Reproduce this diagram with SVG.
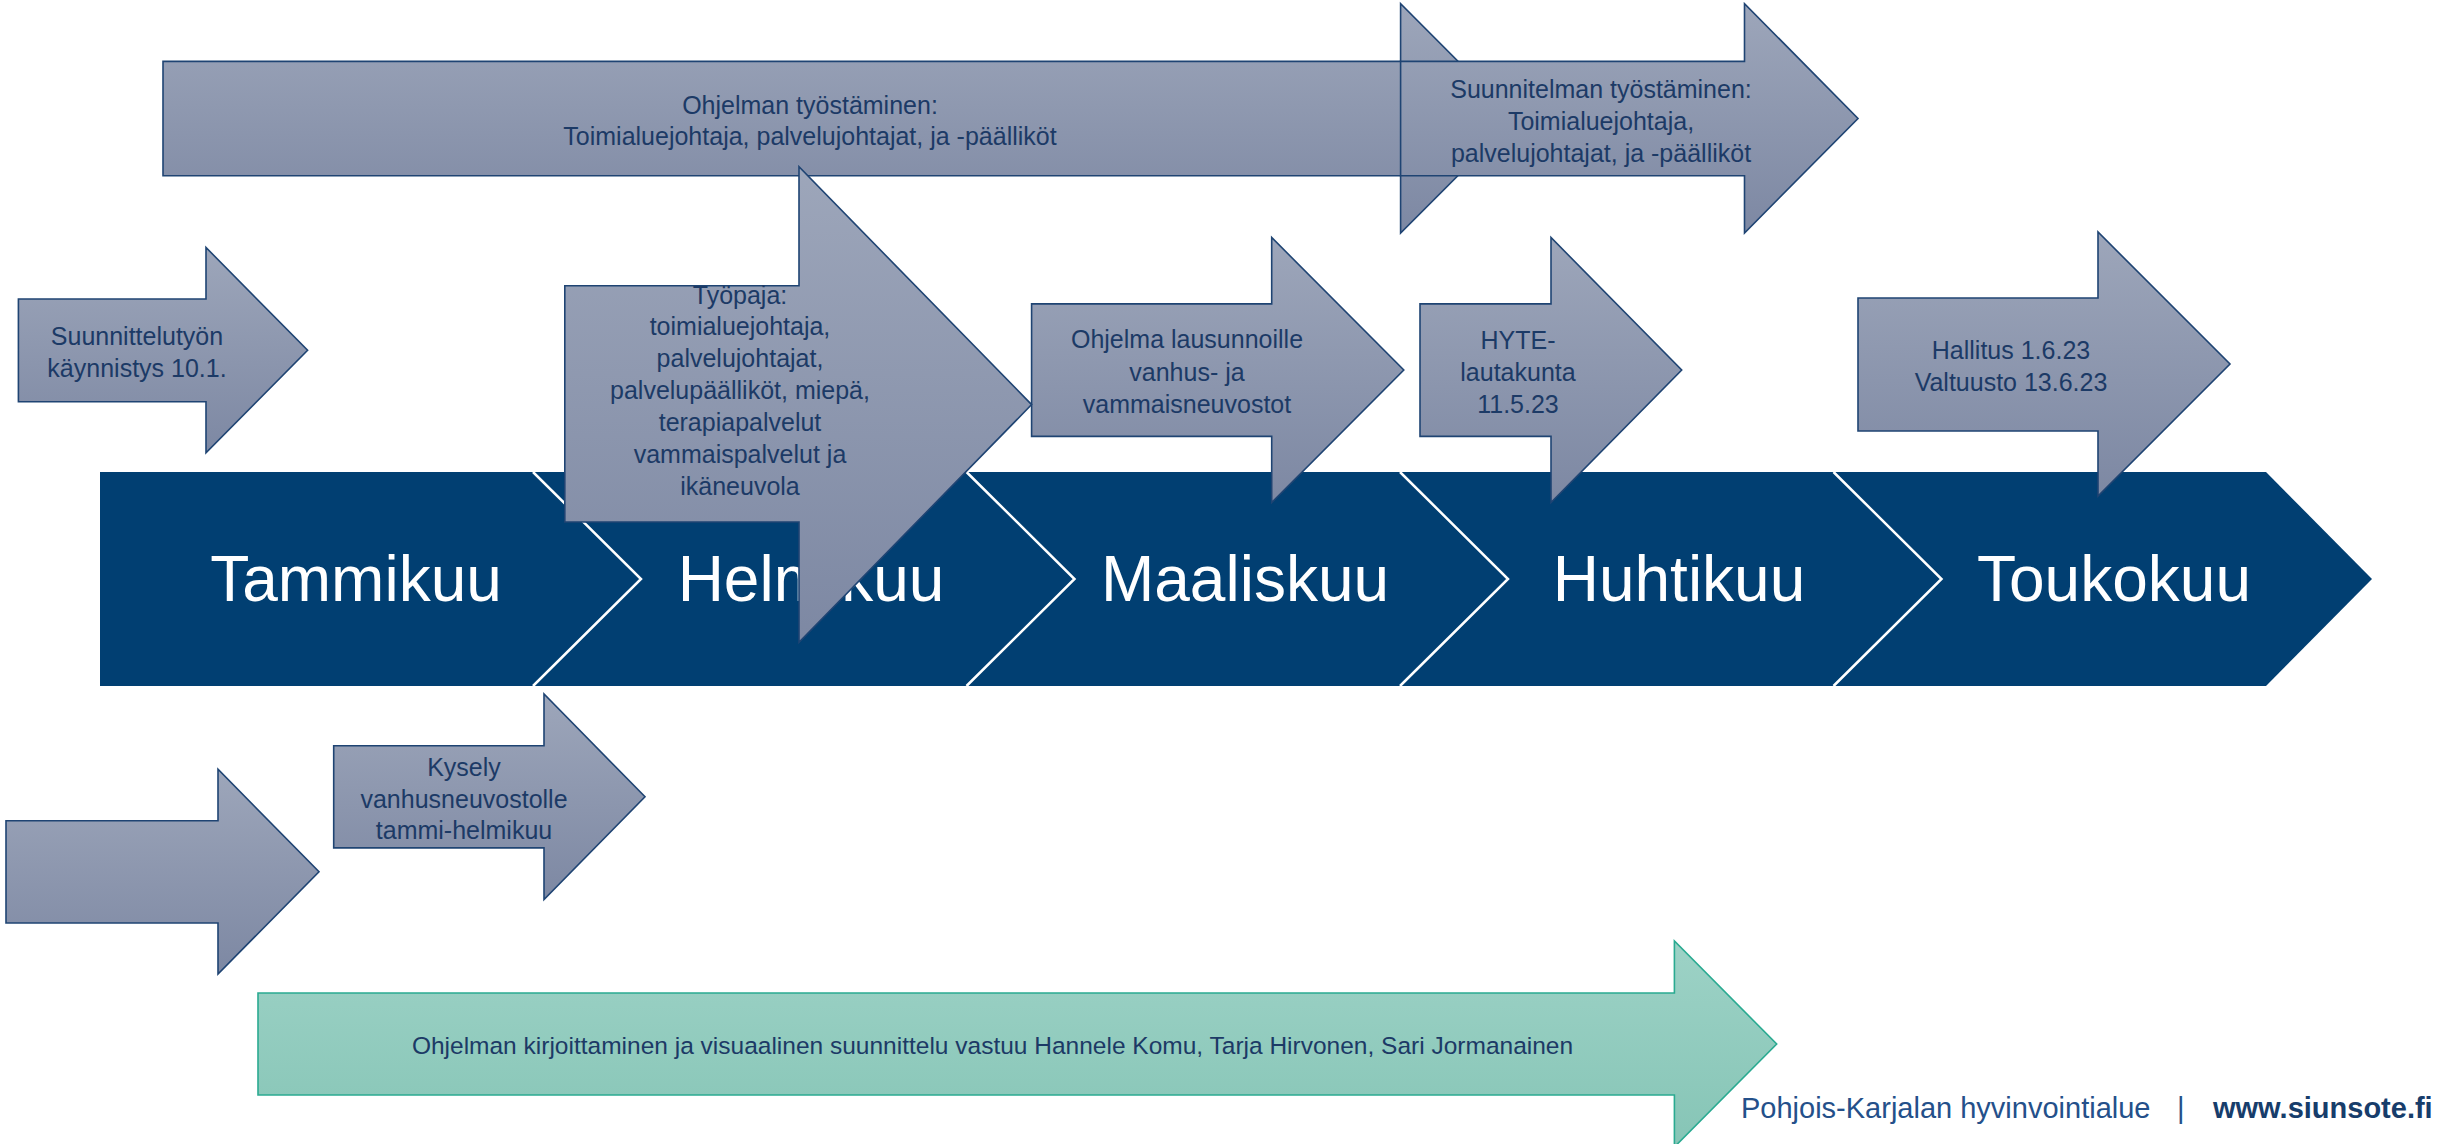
<svg xmlns="http://www.w3.org/2000/svg" width="2463" height="1144" viewBox="0 0 2463 1144">
<defs>
<linearGradient id="gb" x1="0" y1="0" x2="0" y2="1">
<stop offset="0" stop-color="#9DA6BA"/>
<stop offset="1" stop-color="#7D88A3"/>
</linearGradient>
<linearGradient id="gg" x1="0" y1="0" x2="0" y2="1">
<stop offset="0" stop-color="#9DD2C6"/>
<stop offset="1" stop-color="#86C5B6"/>
</linearGradient>
<style>
.arr{fill:url(#gb);stroke:#1F4473;stroke-width:1.6;stroke-linejoin:miter}
.grn{fill:url(#gg);stroke:#2AAA91;stroke-width:1.6}
.t{font-family:"Liberation Sans",Arial,sans-serif;font-size:25px;fill:#1C3A66;text-anchor:middle}
.m{font-family:"Liberation Sans",Arial,sans-serif;font-size:64px;fill:#FFFFFF;text-anchor:middle}
.sep{fill:none;stroke:#FFFFFF;stroke-width:2.5}
.f{font-family:"Liberation Sans",Arial,sans-serif;font-size:29px;fill:#24508A}
.fb{font-family:"Liberation Sans",Arial,sans-serif;font-size:29px;font-weight:bold;fill:#173D6B}
</style>
</defs>
<rect width="2463" height="1144" fill="#FFFFFF"/>

<g id="timeline">
<polygon points="100,472 2266,472 2372,579 2266,686 100,686" fill="#013F72"/>
</g>
<g id="connectors">
<polyline class="sep" points="533,472 641,579 533,686"/>
<polyline class="sep" points="966.5,472 1074.5,579 966.5,686"/>
<polyline class="sep" points="1400,472 1508,579 1400,686"/>
<polyline class="sep" points="1833.5,472 1941.5,579 1833.5,686"/>
</g>
<g id="months">
<text class="m" x="356" y="601">Tammikuu</text>
<text class="m" x="811" y="601">Helmikuu</text>
<text class="m" x="1245" y="601">Maaliskuu</text>
<text class="m" x="1679" y="601">Huhtikuu</text>
<text class="m" x="2114" y="601">Toukokuu</text>
</g>

<g id="ohjelman-tyostaminen">
<path class="arr" d="M163,61.4 H1400.6 V3.6 L1515,118.5 L1400.6,233 V175.7 H163 Z"/>
<text class="t" x="810" y="113.5">Ohjelman työstäminen:</text>
<text class="t" x="810" y="145">Toimialuejohtaja, palvelujohtajat, ja -päälliköt</text>
</g>

<g id="suunnitelman-tyostaminen">
<path class="arr" d="M1400.6,61.4 H1744.5 V3.6 L1858,118.5 L1744.5,233 V175.7 H1400.6 Z"/>
<text class="t" x="1601" y="97.5">Suunnitelman työstäminen:</text>
<text class="t" x="1601" y="130">Toimialuejohtaja,</text>
<text class="t" x="1601" y="162">palvelujohtajat, ja -päälliköt</text>
</g>

<g id="suunnittelutyon-kaynnistys">
<path class="arr" d="M18.4,299 H206 V247.5 L307.6,350.3 L206,452.8 V401.8 H18.4 Z"/>
<text class="t" x="137" y="345">Suunnittelutyön</text>
<text class="t" x="137" y="376.5">käynnistys 10.1.</text>
</g>

<g id="ohjelma-lausunnoille">
<path class="arr" d="M1031.6,303.9 H1271.7 V237.5 L1403.8,370 L1271.7,502.5 V436.4 H1031.6 Z"/>
<text class="t" x="1187" y="348">Ohjelma lausunnoille</text>
<text class="t" x="1187" y="381">vanhus- ja</text>
<text class="t" x="1187" y="413">vammaisneuvostot</text>
</g>

<g id="hyte-lautakunta">
<path class="arr" d="M1420,303.9 H1551 V237.5 L1681.7,370 L1551,502.5 V436.4 H1420 Z"/>
<text class="t" x="1518" y="349">HYTE-</text>
<text class="t" x="1518" y="381">lautakunta</text>
<text class="t" x="1518" y="413">11.5.23</text>
</g>

<g id="hallitus-valtuusto">
<path class="arr" d="M1858,298 H2098 V232 L2230,364 L2098,496 V431 H1858 Z"/>
<text class="t" x="2011" y="359">Hallitus 1.6.23</text>
<text class="t" x="2011" y="390.5">Valtuusto 13.6.23</text>
</g>

<g id="tyopaja">
<path class="arr" d="M564.8,285.7 H799 V166.8 L1031.6,404.6 L799,642.4 V522 H564.8 Z"/>
<text class="t" x="740" y="304">Työpaja:</text>
<text class="t" x="740" y="335">toimialuejohtaja,</text>
<text class="t" x="740" y="367">palvelujohtajat,</text>
<text class="t" x="740" y="399">palvelupäälliköt, miepä,</text>
<text class="t" x="740" y="431">terapiapalvelut</text>
<text class="t" x="740" y="463">vammaispalvelut ja</text>
<text class="t" x="740" y="495">ikäneuvola</text>
</g>

<g id="tyhja-nuoli">
<path class="arr" d="M6,820.7 H218 V769.3 L319,871.7 L218,974 V923 H6 Z"/>
</g>

<g id="kysely">
<path class="arr" d="M333.7,745.8 H544 V694 L645,796.8 L544,899.6 V847.9 H333.7 Z"/>
<text class="t" x="464" y="776">Kysely</text>
<text class="t" x="464" y="807.5">vanhusneuvostolle</text>
<text class="t" x="464" y="839">tammi-helmikuu</text>
</g>

<g id="ohjelman-kirjoittaminen">
<path class="grn" d="M258,993 H1674.4 V941 L1776.7,1044 L1674.4,1147 V1095 H258 Z"/>
<text class="t" x="992.5" y="1053.5" style="font-size:24.5px">Ohjelman kirjoittaminen ja visuaalinen suunnittelu vastuu Hannele Komu, Tarja Hirvonen, Sari Jormanainen</text>
</g>

<g id="footer">
<text class="f" x="1741" y="1117.5">Pohjois-Karjalan hyvinvointialue</text>
<text class="f" x="2177" y="1117.5">|</text>
<text class="fb" x="2213" y="1117.5">www.siunsote.fi</text>
</g>
</svg>
